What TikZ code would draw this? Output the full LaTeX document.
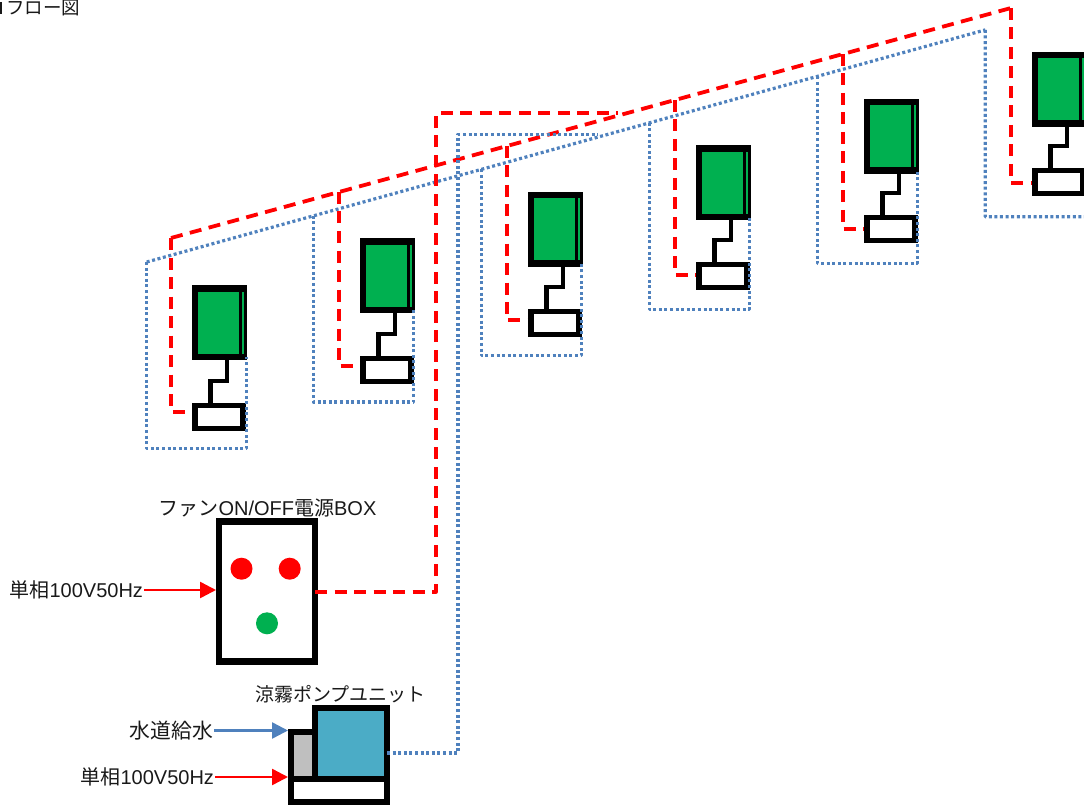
\documentclass[tikz,border=0pt]{standalone}
\usepackage{fontspec}
\setmainfont{Liberation Sans}
\newfontfamily\cjk{Noto Sans CJK JP}
\usetikzlibrary{arrows.meta}
\definecolor{fangreen}{HTML}{00B050}
\definecolor{pumpteal}{HTML}{4BACC6}
\definecolor{pumpgray}{HTML}{BFBFBF}
\definecolor{waterblue}{HTML}{4F81BD}
\newcommand\jp[1]{{\cjk #1}}
\tikzset{
  box/.style={draw=black,rectangle,line width=6.5pt,inner sep=0pt,outer sep=0pt},
  fanunit/.style={rectangle,fill=black,inner sep=0pt,outer sep=0pt,minimum width=55pt,minimum height=75pt},
  fanface/.style={rectangle,fill=fangreen,inner sep=0pt,outer sep=0pt,minimum width=41pt,minimum height=62pt},
  fansliver/.style={rectangle,fill=fangreen,inner sep=0pt,outer sep=0pt,minimum width=2.2pt,minimum height=62pt},
  ctrl/.style={box,line width=5.5pt,fill=white,minimum width=48pt,minimum height=23pt},
  wire/.style={draw=black,line width=4.5pt,line join=miter},
  powerline/.style={draw=red,line width=3.8pt,dash pattern=on 12pt off 7.5pt,line join=round},
  waterline/.style={draw=waterblue,line width=3.2pt,dash pattern=on 3pt off 2.6pt,line join=round},
  lamp/.style={circle,inner sep=0pt,outer sep=0pt,minimum size=22pt},
  label/.style={font=\fontsize{20}{20}\selectfont,inner sep=1pt,outer sep=0pt,text=black!90},
  feedred/.style={draw=red,line width=2.5pt,-{Triangle[length=16pt,width=16pt]}},
  feedblue/.style={draw=waterblue,line width=2.5pt,-{Triangle[length=16pt,width=16pt]}},
}
\begin{document}
\begin{tikzpicture}[x=1pt,y=-1pt]
\clip (0,0) rectangle (1084,805);
% title
\fill[black!90] (0,2) rectangle (1.6,14);
\node[label,anchor=east,font=\fontsize{18.5}{19}\selectfont] (title) at (81,8) {\jp{フロー図}};
% units
\foreach \i in {0,...,5}{
  \pgfmathsetmacro\gx{219.5+168*\i}
  \pgfmathsetmacro\gy{322.5-46.6*\i}
  \pgfmathsetmacro\sx{219+168*\i}
  \pgfmathsetmacro\sy{417-47*\i}
  \pgfmathsetmacro\ex{227+168*\i}
  \pgfmathsetmacro\fx{210.5+168*\i}
  \pgfmathsetmacro\ey{381-47*\i}
  \pgfmathsetmacro\rx{171+168*\i}
  \pgfmathsetmacro\rt{238-46*\i}
  \pgfmathsetmacro\rb{411.7-45.7*\i}
  \pgfmathsetmacro\bx{ifthenelse(\i==0,146.7,145.3+168*\i)}
  \pgfmathsetmacro\bt{262-0.2768*(\bx-146.7)}
  \pgfmathsetmacro\bb{448.3-46.3*\i}
  \pgfmathsetmacro\bu{357-46.7*\i}
  \pgfmathsetmacro\br{\bx+100}
  \coordinate (rt\i) at (\rx,\rt);
  \coordinate (rb\i) at (\rx,\rb);
  \coordinate (re\i) at (\rx+24,\rb);
  \coordinate (bt\i) at (\bx,\bt);
  \coordinate (bb\i) at (\bx,\bb);
  \coordinate (bc\i) at (\br,\bb);
  \coordinate (bu\i) at (\br,\bu);
  \coordinate (wu\i) at (\ex,\ey);
  \coordinate (wl\i) at (\fx,\ey);
  \draw[powerline] (rt\i) -- (rb\i) -- (re\i);
  \node[fanunit] (g\i) at (\gx,\gy) {};
  \node[fanface] (gf\i) at (\gx-1,\gy) {};
  \node[fansliver] (gs\i) at (\gx+23.5,\gy) {};
  \node[ctrl] (s\i) at (\sx,\sy) {};
  \draw[wire] ([xshift=7.5pt]g\i.south) -- (wu\i) -- (wl\i) -- ([xshift=-8.5pt]s\i.north);
}
% trunk lines
\draw[powerline] (rt0) -- (rt5);
\coordinate (bt5end) at (1090,216.7);
\draw[waterline] (bt0) -- (bt5);
\foreach \i in {0,...,4}{
  \draw[waterline] (bt\i) -- (bb\i) -- (bc\i) -- (bu\i);
}
\draw[waterline] (bt5) -- (bb5) -- (bt5end);
% fan power box
\node[box,fill=white,minimum width=96pt,minimum height=140pt] (fan) at (267,591.6) {};
\node[lamp,fill=red] (l1) at (241.5,568.7) {};
\node[lamp,fill=red] (l2) at (289.7,568.7) {};
\node[lamp,fill=fangreen] (l3) at (267,623.3) {};
\node[label] (fantitle) at (267.5,508) {\jp{ファン}ON/OFF\jp{電源}BOX};
\node[label,anchor=east] (in1) at (144,590) {\jp{単相}100V50Hz};
\draw[feedred,shorten >=3pt] (in1.east) -- (in1.east -| fan.west);
% pump unit
\node[box,fill=pumpgray,minimum width=24pt,minimum height=47pt] (tank) at (303,755.5) {};
\node[box,fill=pumpteal,minimum width=72pt,minimum height=71pt] (pump) at (351,743.5) {};
\node[box,fill=white,minimum width=96pt,minimum height=23pt] (base) at (339,790.5) {};
\node[label,font=\fontsize{19}{20}\selectfont] (pumptitle) at (340.5,694) {\jp{涼霧ポンプユニット}};
\node[label,anchor=east,font=\fontsize{20.8}{21}\selectfont] (in2) at (214,730.5) {\jp{水道給水}};
\node[label,anchor=east] (in3) at (215,777) {\jp{単相}100V50Hz};
\coordinate (tankin) at (288,755);
\draw[feedblue] (in2.east) -- (in2.east -| tankin);
\draw[feedred] (in3.east) -- (in3.east -| tankin);
% feeders
\coordinate (fa) at (436,591.6);
\coordinate (fb) at (436,113);
\coordinate (fc) at (618,113);
\draw[powerline] (fan.east) -- (fa) -- (fb) -- (fc);
\coordinate (pa) at (458,753);
\coordinate (pb) at (458,134.5);
\coordinate (pc) at (598,134.5);
\draw[waterline] ([yshift=-9.5pt]pump.east) -- (pa) -- (pb) -- (pc);
\end{tikzpicture}
\end{document}
